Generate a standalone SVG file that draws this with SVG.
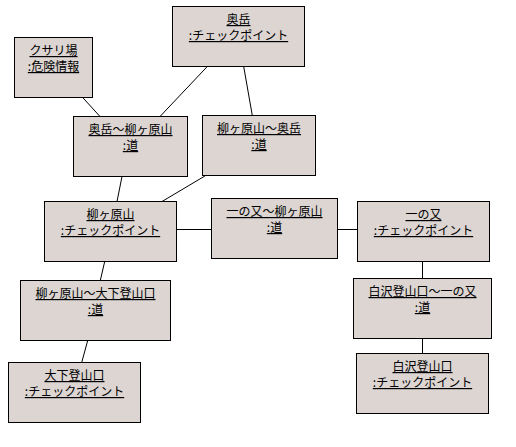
<svg xmlns="http://www.w3.org/2000/svg" width="516" height="447" viewBox="0 0 516 447">
<style>
.box{fill:#dcd5d2;stroke:#000;stroke-width:1}
.t{font-family:"Noto Sans CJK JP","Noto Sans",sans-serif;font-size:12px;fill:#000;text-anchor:middle;text-decoration:underline}
.c line{stroke:#000;stroke-width:1}
</style>
<rect width="516" height="447" fill="#fff"/>
<g class="c" id="connectors">
<line x1="82.7" y1="97.5" x2="100" y2="116.5"/>
<line x1="207.3" y1="66.5" x2="160" y2="116.5"/>
<line x1="243.7" y1="66.5" x2="252.3" y2="115.5"/>
<line x1="122" y1="176.5" x2="117" y2="201.5"/>
<line x1="205.7" y1="175.5" x2="162" y2="201.5"/>
<line x1="176.5" y1="229.5" x2="211.5" y2="229.5"/>
<line x1="337.5" y1="229.5" x2="357.5" y2="229.5"/>
<line x1="104.7" y1="261.5" x2="100.3" y2="280.5"/>
<line x1="87.7" y1="340.5" x2="81.7" y2="362.5"/>
<line x1="422.5" y1="261.5" x2="422.5" y2="278.5"/>
<line x1="422.5" y1="338.5" x2="422.5" y2="353.5"/>
</g>
<g id="n-okudake"><rect class="box" x="172.5" y="6.5" width="132" height="60"/><text class="t" x="238.5" y="24">奥岳</text><text class="t" x="238.5" y="40">:チェックポイント</text></g>
<g id="n-kusariba"><rect class="box" x="14.5" y="37.5" width="78" height="60"/><text class="t" x="53.5" y="55">クサリ場</text><text class="t" x="53.5" y="71">:危険情報</text></g>
<g id="n-road1"><rect class="box" x="73.5" y="116.5" width="114" height="60"/><text class="t" x="130.5" y="134">奥岳〜柳ヶ原山</text><text class="t" x="130.5" y="150">:道</text></g>
<g id="n-road2"><rect class="box" x="202.5" y="115.5" width="113" height="60"/><text class="t" x="259" y="133">柳ヶ原山〜奥岳</text><text class="t" x="259" y="149">:道</text></g>
<g id="n-yanagaharayama"><rect class="box" x="44.5" y="201.5" width="132" height="60"/><text class="t" x="110.5" y="219">柳ヶ原山</text><text class="t" x="110.5" y="235">:チェックポイント</text></g>
<g id="n-road3"><rect class="box" x="211.5" y="198.5" width="126" height="60"/><text class="t" x="274.5" y="216">一の又〜柳ヶ原山</text><text class="t" x="274.5" y="232">:道</text></g>
<g id="n-ichinomata"><rect class="box" x="357.5" y="201.5" width="132" height="60"/><text class="t" x="423.5" y="219">一の又</text><text class="t" x="423.5" y="235">:チェックポイント</text></g>
<g id="n-road4"><rect class="box" x="20.5" y="280.5" width="150" height="60"/><text class="t" x="95.5" y="298">柳ヶ原山〜大下登山口</text><text class="t" x="95.5" y="314">:道</text></g>
<g id="n-road5"><rect class="box" x="353.5" y="278.5" width="138" height="60"/><text class="t" x="422.5" y="296">白沢登山口〜一の又</text><text class="t" x="422.5" y="312">:道</text></g>
<g id="n-oshita"><rect class="box" x="8.5" y="362.5" width="132" height="60"/><text class="t" x="74.5" y="380">大下登山口</text><text class="t" x="74.5" y="396">:チェックポイント</text></g>
<g id="n-shirasawa"><rect class="box" x="356.5" y="353.5" width="132" height="60"/><text class="t" x="422.5" y="371">白沢登山口</text><text class="t" x="422.5" y="387">:チェックポイント</text></g>
</svg>
